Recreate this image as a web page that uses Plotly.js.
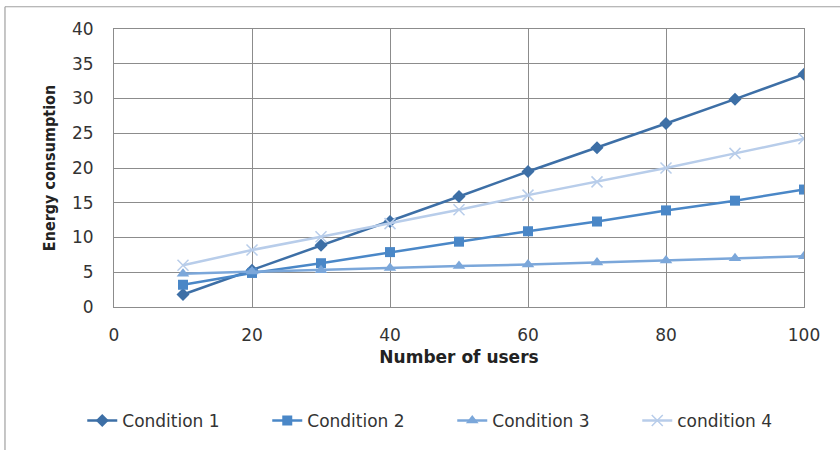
<!DOCTYPE html>
<html>
<head>
<meta charset="utf-8">
<script src="https://cdn.plot.ly/plotly-3.0.1.min.js"></script>
<style>html,body{margin:0;padding:0;background:#fff;}</style>
</head>
<body>
<div id="myDiv" style="width:840px;height:450px;"></div>
<script>
// users on the x axis
var users = [10, 20, 30, 40, 50, 60, 70, 80, 90, 100];

// energy values
var cond1 = [1.8, 5.3, 8.9, 12.3, 15.9, 19.5, 22.9, 26.4, 29.9, 33.5];
var cond2 = [3.2, 4.9, 6.3, 7.9, 9.4, 10.9, 12.3, 13.9, 15.3, 16.9];
var cond3 = [4.8, 5.1, 5.3, 5.6, 5.9, 6.1, 6.4, 6.7, 7.0, 7.3];
var cond4 = [6.0, 8.2, 10.1, 12.0, 14.0, 16.1, 18.0, 20.0, 22.1, 24.2];

var names = ['Condition 1', 'Condition 2', 'Condition 3', 'condition 4'];

function mkTrace(y, name, color, symbol, size) {
  return {
    x: users,
    y: y,
    name: name,
    type: 'scatter',
    mode: 'lines+markers',
    line: {color: color, width: 2.5},
    marker: {color: color, symbol: symbol, size: size,
             line: {color: color, width: symbol === 'x-thin' ? 1.5 : 0}}
  };
}

var data = [
  mkTrace(cond1, names[0], '#3d6fa6', 'diamond', 10),
  mkTrace(cond2, names[1], '#4a87c7', 'square', 10),
  mkTrace(cond3, names[2], '#7ba7da', 'triangle-up', 11),
  mkTrace(cond4, names[3], '#b8cdea', 'x-thin', 11)
];

var gridCol = '#8c8c8c';

var layout = {
  width: 840,
  height: 450,
  margin: {l: 114, r: 36, t: 29, b: 142},
  paper_bgcolor: '#ffffff',
  plot_bgcolor: '#ffffff',
  font: {family: 'DejaVu Sans, Verdana, sans-serif', color: '#333333', size: 17},
  showlegend: true,
  legend: {
    orientation: 'h',
    x: -0.046, xanchor: 'left',
    y: -0.405, yanchor: 'middle',
    font: {size: 17, color: '#333333'},
    entrywidth: 140,
    entrywidthmode: 'pixels',
    traceorder: 'normal'
  },
  xaxis: {
    range: [0, 100],
    dtick: 20,
    showgrid: true,
    gridcolor: gridCol,
    gridwidth: 1,
    showline: true,
    linecolor: gridCol,
    mirror: true,
    zeroline: false,
    ticks: '',
    ticklabelstandoff: 13,
    tickfont: {size: 17},
    title: {text: '<b>Number of users</b>', font: {family: 'DejaVu Sans, sans-serif', size: 17, color: '#222222'}, standoff: 6}
  },
  yaxis: {
    range: [0, 40],
    dtick: 5,
    showgrid: true,
    gridcolor: gridCol,
    gridwidth: 1,
    showline: true,
    linecolor: gridCol,
    mirror: true,
    zeroline: false,
    ticks: '',
    ticklabelstandoff: 16,
    tickfont: {size: 17},
    title: {text: '<b>Energy consumption</b>', font: {family: 'DejaVu Sans Condensed, DejaVu Sans, sans-serif', size: 16, color: '#222222'}, standoff: 12}
  },
  shapes: [
    {type: 'line', xref: 'paper', yref: 'paper', x0: -0.158, x1: 1.06, y0: 1.08, y1: 1.08,
     line: {color: '#a0a0a0', width: 1.2}},
    {type: 'line', xref: 'paper', yref: 'paper', x0: -0.158, x1: -0.158, y0: 1.08, y1: -0.52,
     line: {color: '#a0a0a0', width: 1.2}}
  ]
};

Plotly.newPlot('myDiv', data, layout, {displayModeBar: false, staticPlot: true});
</script>
</body>
</html>
